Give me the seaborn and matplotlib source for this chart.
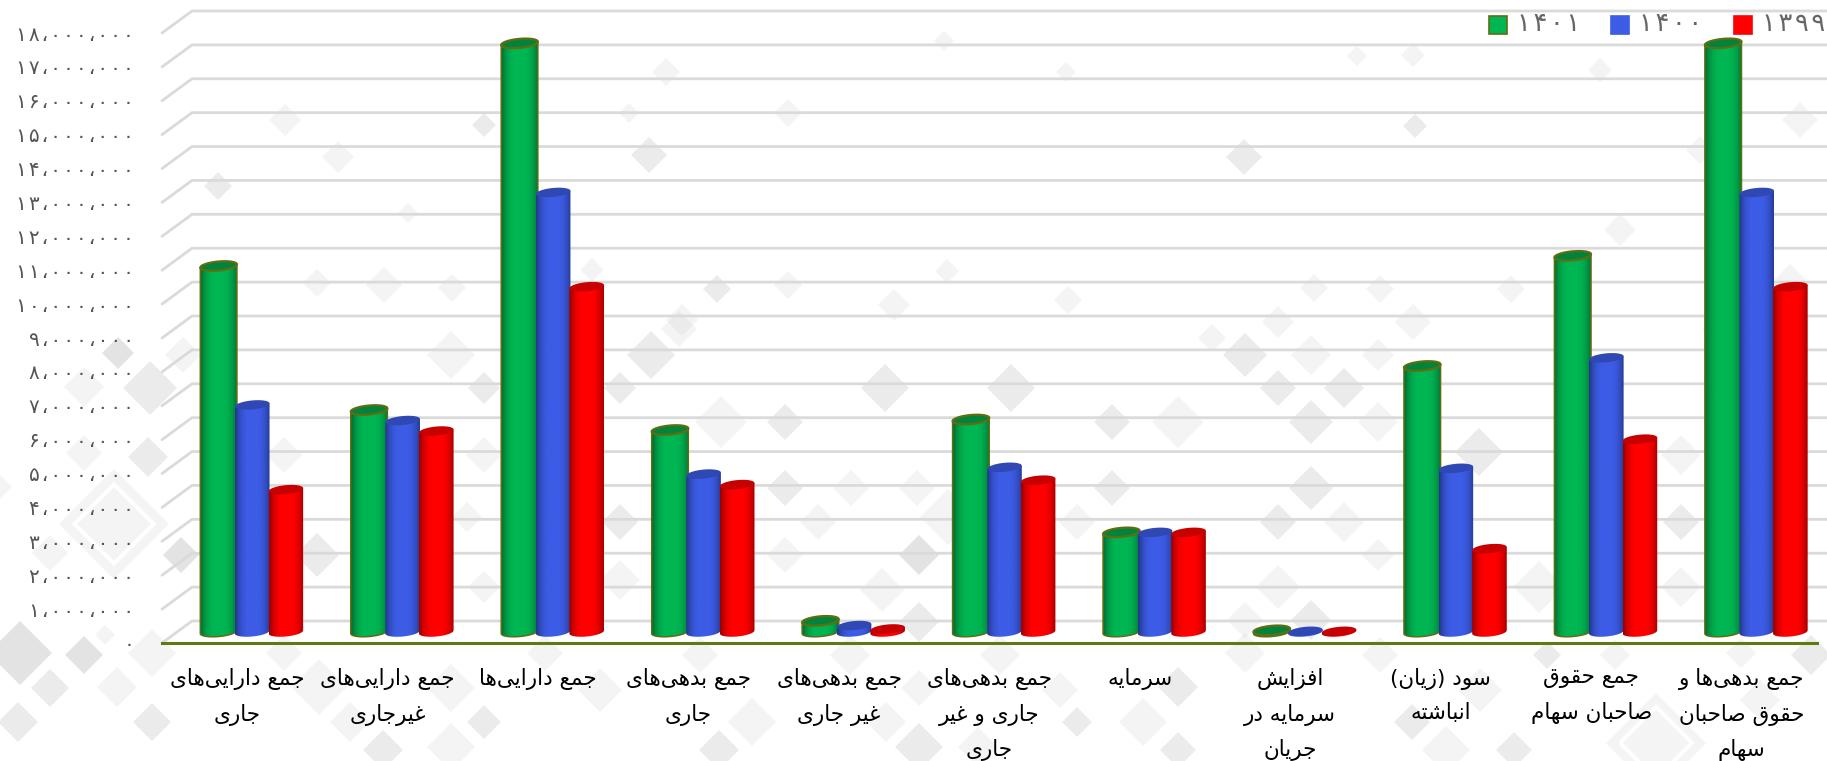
import numpy as np
import pandas as pd
import matplotlib
matplotlib.use("Agg")
import matplotlib.pyplot as plt
from matplotlib.patches import Polygon
import seaborn as sns

W, H = 1827, 761

years = ['۱۴۰۱', '۱۴۰۰', '۱۳۹۹']
categories = [
    'جمع دارایی‌های\nجاری',
    'جمع دارایی‌های\nغیرجاری',
    'جمع دارایی‌ها',
    'جمع بدهی‌های\nجاری',
    'جمع بدهی‌های\nغیر جاری',
    'جمع بدهی‌های\nجاری و غیر\nجاری',
    'سرمایه',
    'افزایش\nسرمایه در\nجریان',
    'سود (زیان)\nانباشته',
    'جمع حقوق\nصاحبان سهام',
    'جمع بدهی‌ها و\nحقوق صاحبان\nسهام',
]
values_1401 = [10.8, 6.55, 17.37, 5.96, 0.33, 6.27, 2.94, 0.05, 7.85, 11.1, 17.37]
values_1400 = [6.7, 6.24, 12.97, 4.66, 0.19, 4.86, 2.94, 0.02, 4.83, 8.09, 12.97]
values_1399 = [4.2, 5.93, 10.19, 4.35, 0.09, 4.48, 2.94, 0.02, 2.46, 5.69, 10.19]
y_ticks = list(range(0, 19))
colors = ['#00b652', '#3c5ce6', '#ff0000']
OLIVE = '#5f6e10'

# background texture: x, y, half size, strength
bg_diamonds = [
    (118, 353, 16, 3), (150, 388, 27, 2), (84, 387, 20, 1), (183, 355, 18, 1), (148, 457, 20, 2), (84, 453, 18, 1),
    (50, 553, 18, 1), (181, 555, 18, 3), (317, 555, 22, 2), (0, 487, 12, 1), (20, 653, 32, 3), (84, 655, 19, 3),
    (50, 688, 19, 2), (117, 687, 20, 1), (152, 653, 24, 1), (18, 722, 20, 2), (152, 722, 19, 2), (105, 635, 10, 1),
    (284, 455, 18, 1), (451, 355, 24, 1), (484, 388, 16, 2), (484, 455, 18, 1), (467, 517, 15, 1), (484, 587, 16, 1),
    (319, 687, 28, 1), (451, 688, 24, 1), (484, 722, 17, 2), (350, 722, 20, 1), (383, 750, 20, 2), (451, 747, 24, 1),
    (284, 653, 18, 1), (545, 653, 18, 1), (651, 355, 24, 2), (620, 388, 16, 2), (682, 320, 16, 1), (885, 388, 24, 2),
    (1011, 388, 24, 2), (721, 422, 26, 1), (785, 422, 18, 2), (1112, 422, 18, 2), (1178, 422, 26, 1), (785, 488, 18, 2),
    (851, 488, 18, 1), (917, 488, 18, 1), (1112, 488, 18, 2), (620, 522, 18, 2), (818, 522, 18, 1), (948, 517, 28, 1),
    (1077, 522, 18, 1), (919, 555, 20, 3), (785, 555, 18, 1), (882, 590, 22, 1), (620, 580, 20, 1), (919, 622, 20, 2),
    (752, 722, 24, 1), (886, 722, 20, 1), (1077, 722, 15, 2), (1143, 722, 24, 1), (1178, 687, 20, 2), (919, 688, 18, 1),
    (719, 750, 20, 2), (919, 747, 24, 2), (1178, 750, 18, 2), (978, 747, 20, 1), (1278, 322, 16, 1), (1413, 322, 18, 1),
    (1245, 355, 22, 2), (1311, 355, 20, 1), (1378, 355, 16, 1), (1278, 388, 18, 2), (1344, 388, 20, 2), (1311, 422, 22, 2),
    (1378, 422, 20, 1), (1479, 452, 24, 2), (1681, 455, 20, 1), (1311, 488, 22, 2), (1278, 522, 18, 2), (1344, 522, 20, 1),
    (1681, 522, 18, 2), (1378, 555, 16, 1), (1278, 587, 22, 1), (1539, 587, 26, 1), (1681, 587, 20, 1), (1245, 620, 18, 1),
    (1311, 620, 20, 2), (1412, 722, 18, 2), (1446, 750, 24, 1), (1514, 750, 18, 2), (1547, 655, 14, 2), (1615, 655, 15, 1),
    (1811, 655, 20, 2), (1741, 653, 15, 1), (1245, 653, 20, 1), (1380, 655, 18, 1), (1000, 655, 20, 1), (850, 655, 20, 1),
    (700, 655, 18, 1), (600, 690, 22, 1), (1060, 690, 18, 1), (1480, 690, 22, 1), (1760, 700, 20, 1),
    (285, 120, 16, 1), (218, 186, 14, 2), (317, 283, 14, 1), (384, 285, 18, 1), (338, 157, 16, 1), (484, 125, 12, 2),
    (1244, 157, 18, 2), (1415, 126, 12, 2), (1413, 55, 12, 1), (1357, 56, 10, 1), (629, 113, 10, 1), (788, 113, 14, 1),
    (666, 72, 14, 1), (1066, 72, 10, 1), (944, 41, 10, 1), (649, 155, 18, 2), (518, 186, 12, 1), (408, 213, 10, 1),
    (452, 288, 14, 1), (592, 270, 12, 1), (679, 329, 18, 1), (788, 285, 14, 1), (894, 305, 16, 1), (947, 271, 12, 1),
    (717, 289, 14, 2), (1068, 300, 14, 1), (1212, 338, 14, 1), (1314, 288, 14, 1), (1380, 289, 14, 1), (1511, 289, 14, 1),
    (1620, 230, 16, 1), (1720, 330, 18, 1), (1790, 280, 16, 1), (1700, 150, 14, 1), (1800, 120, 18, 1), (1600, 70, 12, 1),
]
# large outlined diamonds
bg_framed = [(114, 524, 55), (1656, 743, 50)]


# matplotlib has no arabic shaping, so map to presentation forms by hand
FORMS = {
    'ا': 'ﺍﺎ', 'د': 'ﺩﺪ', 'ذ': 'ﺫﺬ', 'ر': 'ﺭﺮ', 'ز': 'ﺯﺰ', 'و': 'ﻭﻮ',
    'ب': 'ﺏﺐﺑﺒ', 'ج': 'ﺝﺞﺟﺠ', 'ح': 'ﺡﺢﺣﺤ', 'س': 'ﺱﺲﺳﺴ', 'ش': 'ﺵﺶﺷﺸ',
    'ص': 'ﺹﺺﺻﺼ', 'ع': 'ﻉﻊﻋﻌ', 'غ': 'ﻍﻎﻏﻐ', 'ف': 'ﻑﻒﻓﻔ', 'ق': 'ﻕﻖﻗﻘ',
    'ل': 'ﻝﻞﻟﻠ', 'م': 'ﻡﻢﻣﻤ', 'ن': 'ﻥﻦﻧﻨ', 'ه': 'ﻩﻪﻫﻬ',
    'ی': 'ﯼﯽﯾﯿ', 'ت': 'ﺕﺖﺗﺘ',
}


def shape_line(line):
    out = []
    for i, ch in enumerate(line):
        if ch == '\u200c':
            continue
        if ch not in FORMS:
            out.append({'(': ')', ')': '('}.get(ch, ch))
            continue
        forms = FORMS[ch]
        prev_ch = line[i - 1] if i > 0 else ''
        next_ch = line[i + 1] if i + 1 < len(line) else ''
        join_prev = prev_ch in FORMS and len(FORMS[prev_ch]) == 4
        join_next = next_ch in FORMS and len(forms) == 4
        if join_prev and join_next:
            out.append(forms[3])
        elif join_prev:
            out.append(forms[1])
        elif join_next:
            out.append(forms[2])
        else:
            out.append(forms[0])
    return ''.join(reversed(out))


def shape(text):
    return '\n'.join(shape_line(x) for x in text.split('\n'))


def fa_number(n):
    digits = f"{n * 1000000:,}".replace(',', '،') if n else '0'
    digits = digits.translate(str.maketrans('0123456789', '۰۱۲۳۴۵۶۷۸۹'))
    return '\u200a'.join(digits)


df = pd.DataFrame({
    'category': categories * 3,
    'year': np.repeat(years, len(categories)),
    'value': values_1401 + values_1400 + values_1399,
})

sns.set_theme(style='white')
plt.rcParams['font.family'] = ['DejaVu Sans']

fig = plt.figure(figsize=(W / 100, H / 100), dpi=100)

bg = fig.add_axes([0, 0, 1, 1], zorder=0)
bg.set_xlim(0, W)
bg.set_ylim(H, 0)
bg.axis('off')


def diamond(x, y, r):
    return [(x - r, y), (x, y - r), (x + r, y), (x, y + r)]


strength = {1: 0.2, 2: 0.36, 3: 0.5}
for x, y, r, s in bg_diamonds:
    bg.add_patch(Polygon(diamond(x, y, r), fc='#c8c8c8', alpha=strength[s], lw=0))
for x, y, r in bg_framed:
    bg.add_patch(Polygon(diamond(x, y, r), fc='#c8c8c8', alpha=0.2, lw=0))
    bg.add_patch(Polygon(diamond(x, y, r * 0.72), fc='none', ec='white', lw=3))

# front plane: ticks, category labels and base line
ax_front = fig.add_axes([162 / W, 1 - 643 / H, 1655 / W, 610 / H], zorder=1)
ax_front.patch.set_alpha(0)
# middle of the depth: the bars stand here
ax = fig.add_axes([177 / W, 1 - 632 / H, 1655 / W, 610 / H], zorder=2)
ax.patch.set_alpha(0)

sns.barplot(data=df, x='category', y='value', hue='year', hue_order=years, palette=colors,
            order=categories, width=0.67, gap=0, saturation=1, legend=False, ax=ax)
ax.axis('off')

ax_front.set_xlim(-0.5, 10.5)
ax_front.set_ylim(0, 18)
ax_front.set_yticks(y_ticks)
ax_front.set_yticklabels([fa_number(v) for v in y_ticks], fontsize=14.5, color='#555555')
ax_front.set_xticks(range(len(categories)))
ax_front.set_xticklabels([shape(c) for c in categories], fontsize=15.5, color='black', linespacing=1.8, va='top')
ax_front.tick_params(length=0, axis='y', pad=20)
ax_front.tick_params(length=0, axis='x', pad=18)
for side in ['top', 'left', 'right']:
    ax_front.spines[side].set_visible(False)
ax_front.spines['bottom'].set_color('#5f7a10')
ax_front.spines['bottom'].set_linewidth(2.2)

# 3d grid: front edge, then along the back wall
dx = 30 * 11 / 1655
dy = 22 * 18 / 610
for v in y_ticks:
    ax_front.plot([-0.5, -0.5 + dx, 10.5 + dx], [v, v + dy, v + dy], color='#dadada', lw=2, clip_on=False, zorder=0,
                  solid_joinstyle='miter')

# turn the flat bars into cylinders
shade = np.array([0.6, 0.8, 0.93, 1.0, 1.0, 1.0, 1.0, 0.95, 0.84, 0.66])
grad = np.interp(np.linspace(0, 1, 64), np.linspace(0, 1, len(shade)), shade)
px_x = 1655 / 11
px_y = 610 / 18
ry, tilt = 4.5, 1.6
t_all = np.linspace(0, 2 * np.pi, 60)
t_low = np.linspace(2 * np.pi, np.pi, 30)


def tilted_ellipse(cx, cy, a, t):
    return cx + a * np.cos(t), cy + (ry * np.sin(t) + tilt * np.cos(t)) / px_y


for i, bar in enumerate(ax.patches):
    col = np.array(matplotlib.colors.to_rgb(bar.get_facecolor()))
    h = bar.get_height()
    is_green = i < len(categories)
    extra = (1.5 if is_green else 0.5) / px_x
    x0, w = bar.get_x() - extra, bar.get_width() + 2 * extra
    cx, a = x0 + w / 2, w / 2
    z = 3 + i % 11 + (i // 11) * 0.1
    bar.set_visible(False)

    rgb = grad[None, :, None] * col[None, None, :]
    im = ax.imshow(rgb, extent=[x0, x0 + w, -10 / px_y, h + 10 / px_y], aspect='auto', zorder=z,
                   interpolation='bilinear')
    low_x, low_y = tilted_ellipse(cx, 0, a, t_low)
    outline = np.column_stack([
        np.r_[low_x, x0, x0 + w],
        np.r_[low_y, h - tilt / px_y, h + tilt / px_y],
    ])
    body = Polygon(outline, fc='none', lw=0)
    ax.add_patch(body)
    # the base of the cylinder hangs below y=0, so only clip to the shape
    im.set_clip_box(fig.bbox)
    im.set_clip_path(body)
    if is_green:
        ax.plot(np.r_[x0, low_x[::-1], x0 + w], np.r_[h - tilt / px_y, low_y[::-1], h + tilt / px_y],
                color=OLIVE, lw=1.1, zorder=z + 0.01, clip_on=False)
    top_x, top_y = tilted_ellipse(cx, h, a, t_all)
    top = Polygon(np.column_stack([top_x, top_y]), fc=col * (0.72 if is_green else 0.78),
                  ec=OLIVE if is_green else 'none', lw=1.6 if is_green else 0, zorder=z + 0.02, clip_on=False)
    ax.add_patch(top)
ax.set_xlim(-0.5, 10.5)
ax.set_ylim(0, 18)

# legend, placed by hand like the original
leg_x = [1489, 1611, 1734]
for x, yr, c in zip(leg_x, years, colors):
    ec = OLIVE if c == colors[0] else c
    fig.patches.append(plt.Rectangle((x / W, 1 - 34 / H), 18 / W, 18 / H, transform=fig.transFigure, fc=c, ec=ec, lw=1.2, zorder=5))
    fig.text((x + 28) / W, 1 - 24 / H, '\u200a'.join(yr), fontsize=18.5, color='#666666', va='center', ha='left', zorder=5)

fig.savefig('out.png', dpi=100)
